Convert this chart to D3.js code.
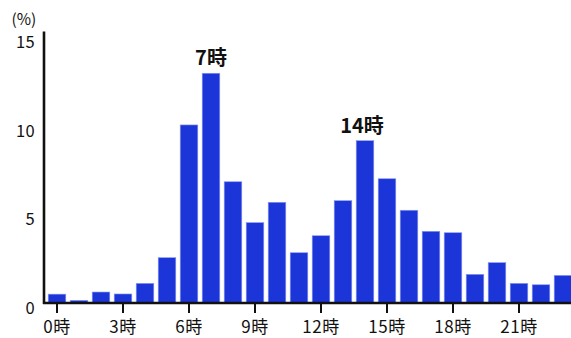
<!DOCTYPE html>
<html><head><meta charset="utf-8">
<script src="https://cdn.jsdelivr.net/npm/d3@7"></script>
<style>body{margin:0;background:#fff}svg{display:block}</style>
</head><body>
<svg id="c" width="571" height="338"></svg>
<script>
const hours = d3.range(24);
const values = [0.5,0.15,0.62,0.51,1.11,2.56,10.06,12.98,6.85,4.54,5.69,2.84,3.80,5.78,9.17,7.02,5.24,4.05,3.97,1.62,2.28,1.11,1.03,1.56];
const yTicks = [0,5,10,15];
const xTicks = [0,3,6,9,12,15,18,21];
const peaks = [7,14];

const svg = d3.select("#c");
const font = "'Noto Sans CJK JP','Noto Sans',sans-serif";
const x = d3.scaleBand().domain(hours).range([46,574]).paddingInner(0.2).paddingOuter(0.1);
const y = d3.scaleLinear().domain([0,15]).range([303,37.5]);

svg.append("g").selectAll("rect").data(hours).join("rect")
  .attr("x", d=>x(d)).attr("width", x.bandwidth())
  .attr("y", d=>y(values[d])).attr("height", d=>y(0)-y(values[d]))
  .attr("fill","#1c35d8").attr("stroke","#8a99ee").attr("stroke-width",0.6);

// y axis
const ya = svg.append("g").attr("transform","translate(44,0)")
  .call(d3.axisLeft(y).tickValues(yTicks).tickSize(0).tickPadding(9));
ya.select(".domain").remove();
ya.selectAll("text").attr("font-family",font).attr("font-size",16.5).attr("fill","#111")
  .attr("dy","0.62em").attr("letter-spacing","0.3px");
svg.append("line").attr("x1",44).attr("x2",44).attr("y1",31.5).attr("y2",304).attr("stroke","#111").attr("stroke-width",2.6);

// x axis
const xa = svg.append("g").attr("transform","translate(0,303)")
  .call(d3.axisBottom(x).tickValues(xTicks).tickSize(10).tickPadding(8).tickFormat(d=>d+"時"));
xa.select(".domain").remove();
xa.selectAll(".tick line").attr("stroke","#111").attr("stroke-width",2);
xa.selectAll("text").attr("font-family",font).attr("font-size",17).attr("fill","#111").attr("letter-spacing","0.5px");
svg.append("line").attr("x1",43).attr("x2",571).attr("y1",303).attr("y2",303).attr("stroke","#111").attr("stroke-width",2.6);

svg.append("text").attr("x",24).attr("y",25).attr("text-anchor","middle")
  .attr("font-family",font).attr("font-size",15.5).attr("fill","#111").text("(%)");

svg.selectAll("text.peak").data(peaks).join("text").attr("class","peak")
  .attr("x", d=>x(d)+x.bandwidth()/2 - (d===14?3:0)).attr("y", d=>y(values[d])-8)
  .attr("text-anchor","middle").attr("font-family",font).attr("font-weight","bold")
  .attr("font-size",20).attr("fill","#111").text(d=>d+"時");
</script>
</body></html>
